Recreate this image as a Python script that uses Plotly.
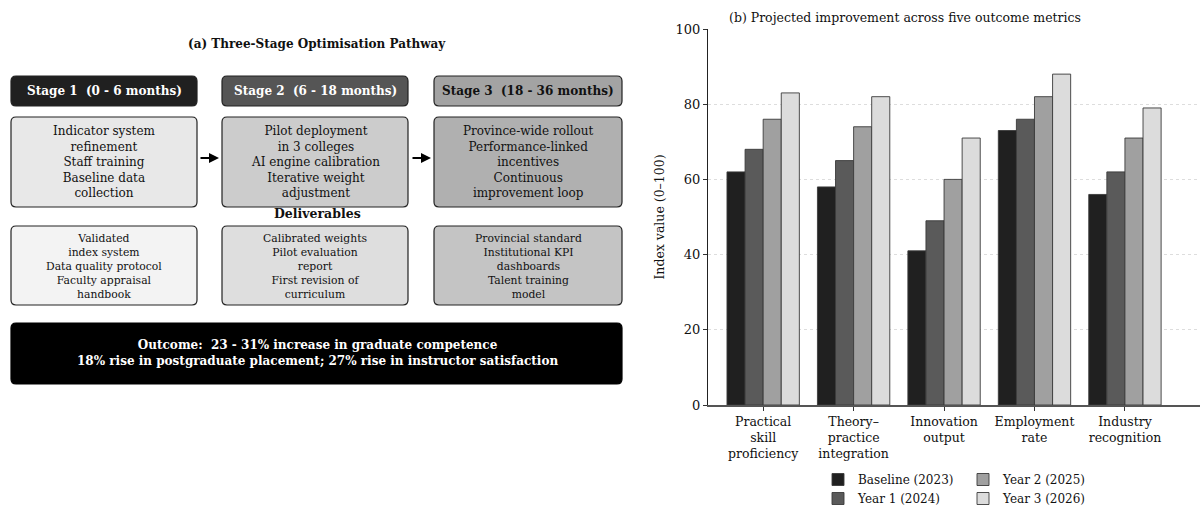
import plotly.graph_objects as go

W, H = 1200, 506
FONT = "DejaVu Serif"

# ---- data for panel (b) ----
categories = [
    "Practical<br>skill<br>proficiency",
    "Theory–<br>practice<br>integration",
    "Innovation<br>output",
    "Employment<br>rate",
    "Industry<br>recognition",
]
series_names = ["Baseline (2023)", "Year 1 (2024)", "Year 2 (2025)", "Year 3 (2026)"]
baseline_2023 = [62, 58, 41, 73, 56]
year1_2024 = [68, 65, 49, 76, 62]
year2_2025 = [76, 74, 60, 82, 71]
year3_2026 = [83, 82, 71, 88, 79]
y_tick_values = [0, 20, 40, 60, 80, 100]

# ---- text for panel (a) ----
panel_a_title = "(a) Three-Stage Optimisation Pathway"
stage_titles = [
    "Stage 1  (0 - 6 months)",
    "Stage 2  (6 - 18 months)",
    "Stage 3  (18 - 36 months)",
]
stage_tasks = [
    ["Indicator system", "refinement", "Staff training", "Baseline data", "collection"],
    ["Pilot deployment", "in 3 colleges", "AI engine calibration", "Iterative weight", "adjustment"],
    ["Province-wide rollout", "Performance-linked", "incentives", "Continuous", "improvement loop"],
]
deliverables_label = "Deliverables"
stage_deliverables = [
    ["Validated", "index system", "Data quality protocol", "Faculty appraisal", "handbook"],
    ["Calibrated weights", "Pilot evaluation", "report", "First revision of", "curriculum"],
    ["Provincial standard", "Institutional KPI", "dashboards", "Talent training", "model"],
]
outcome_lines = [
    "Outcome:  23 - 31% increase in graduate competence",
    "18% rise in postgraduate placement; 27% rise in instructor satisfaction",
]

# ---- styling ----
bar_colors = ["#202020", "#5a5a5a", "#a0a0a0", "#dcdcdc"]
header_fill = ["#202020", "#555555", "#a3a3a3"]
header_text = ["white", "white", "#111111"]
task_fill = ["#e8e8e8", "#cccccc", "#b0b0b0"]
deliv_fill = ["#f3f3f3", "#dedede", "#c4c4c4"]

col_x = [(11, 197), (222, 408), (434, 622)]


def px(x):
    return x / W


def py(y):
    return 1 - y / H


def rounded_box(x0, y0, x1, y1, fill, r=5, line="#222222", lw=1.2):
    """Rounded rectangle in pixel coordinates (top-left origin)."""
    X0, X1 = px(x0), px(x1)
    Y0, Y1 = py(y0), py(y1)
    rx, ry = r / W, r / H
    path = (
        f"M {X0 + rx},{Y0} L {X1 - rx},{Y0} Q {X1},{Y0} {X1},{Y0 - ry} "
        f"L {X1},{Y1 + ry} Q {X1},{Y1} {X1 - rx},{Y1} "
        f"L {X0 + rx},{Y1} Q {X0},{Y1} {X0},{Y1 + ry} "
        f"L {X0},{Y0 - ry} Q {X0},{Y0} {X0 + rx},{Y0} Z"
    )
    return dict(type="path", path=path, xref="paper", yref="paper",
                fillcolor=fill, line=dict(color=line, width=lw), layer="below")


fig = go.Figure()

series_values = [baseline_2023, year1_2024, year2_2025, year3_2026]
for i, (name, vals) in enumerate(zip(series_names, series_values)):
    fig.add_trace(go.Bar(
        x=list(range(len(categories))), y=vals, name=name,
        marker=dict(color=bar_colors[i], line=dict(color="#3a3a3a", width=0.9)),
        legend="legend" if i < 2 else "legend2",
        hoverinfo="skip",
    ))

shapes = []
annotations = []

annotations.append(dict(
    text=f"<b>{panel_a_title}</b>", x=px(317), y=py(44), xref="paper", yref="paper",
    showarrow=False, font=dict(family=FONT, size=12, color="#111111"),
    xanchor="center", yanchor="middle"))

for i, (xa, xb) in enumerate(col_x):
    cx = (xa + xb) / 2
    shapes.append(rounded_box(xa, 76, xb, 106, header_fill[i]))
    annotations.append(dict(
        text=f"<b>{stage_titles[i]}</b>", x=px(cx), y=py(91), xref="paper", yref="paper",
        showarrow=False, font=dict(family=FONT, size=12, color=header_text[i]),
        xanchor="center", yanchor="middle"))
    shapes.append(rounded_box(xa, 117, xb, 207, task_fill[i]))
    annotations.append(dict(
        text="<br>".join(stage_tasks[i]), x=px(cx), y=py(162), xref="paper", yref="paper",
        showarrow=False, font=dict(family=FONT, size=12, color="#111111"),
        xanchor="center", yanchor="middle"))
    shapes.append(rounded_box(xa, 226, xb, 305, deliv_fill[i]))
    annotations.append(dict(
        text="<br>".join(stage_deliverables[i]), x=px(cx), y=py(266), xref="paper", yref="paper",
        showarrow=False, font=dict(family=FONT, size=10.8, color="#111111"),
        xanchor="center", yanchor="middle"))

# arrows between stage columns
for xa, xb in [(199, 219), (411, 431)]:
    annotations.append(dict(
        x=px(xb), y=py(158), ax=xa - xb, ay=0, xref="paper", yref="paper",
        text="", showarrow=True,
        arrowhead=2, arrowsize=1, arrowwidth=2, arrowcolor="#000000"))

annotations.append(dict(
    text=f"<b>{deliverables_label}</b>", x=px(317), y=py(213), xref="paper", yref="paper",
    showarrow=False, font=dict(family=FONT, size=12.5, color="#111111"),
    xanchor="center", yanchor="middle"))

shapes.append(rounded_box(11, 323, 622, 384, "#000000", line="#000000"))
annotations.append(dict(
    text="<b>" + "<br>".join(outcome_lines) + "</b>", x=px(317), y=py(353),
    xref="paper", yref="paper", showarrow=False,
    font=dict(family=FONT, size=12, color="white"),
    xanchor="center", yanchor="middle"))

# panel (b) title
annotations.append(dict(
    text="(b) Projected improvement across five outcome metrics", x=px(905), y=py(17),
    xref="paper", yref="paper", showarrow=False,
    font=dict(family=FONT, size=12.5, color="#111111"),
    xanchor="center", yanchor="middle"))

# two side-by-side legend columns under panel (b)
legend_style = dict(
    y=py(465), xanchor="left", yanchor="top",
    orientation="v", bgcolor="rgba(0,0,0,0)", borderwidth=0,
    font=dict(family=FONT, size=12, color="#111111"),
)

fig.update_layout(
    width=W, height=H,
    margin=dict(l=0, r=0, t=0, b=0, autoexpand=False),
    paper_bgcolor="white", plot_bgcolor="white",
    font=dict(family=FONT, size=13, color="#111111"),
    barmode="group", bargap=0.2, bargroupgap=0,
    shapes=shapes, annotations=annotations,
    xaxis=dict(
        domain=[px(708), 1.0], range=[-0.61, 4.83],
        tickmode="array", tickvals=list(range(len(categories))), ticktext=categories,
        ticks="outside", ticklen=4, tickcolor="#333333",
        showline=True, linecolor="#555555", linewidth=1.5,
        showgrid=False, zeroline=False, automargin=False,
        tickfont=dict(family=FONT, size=12.5, color="#111111"),
    ),
    yaxis=dict(
        domain=[1 - 405 / H, 1 - 29 / H], range=[0, 100],
        tickmode="array", tickvals=y_tick_values,
        ticks="outside", ticklen=4, tickcolor="#333333",
        showline=True, linecolor="#222222", linewidth=1,
        showgrid=True, gridcolor="#dddddd", gridwidth=0.8, griddash="dot",
        zeroline=False, automargin=False,
        tickfont=dict(family=FONT, size=13, color="#111111"),
        title=dict(text="Index value (0–100)", standoff=8,
                   font=dict(family=FONT, size=12.5, color="#111111")),
    ),
    legend=dict(x=px(818), **legend_style),
    legend2=dict(x=px(963), **legend_style),
    showlegend=True,
)

fig.write_html("out.html")
